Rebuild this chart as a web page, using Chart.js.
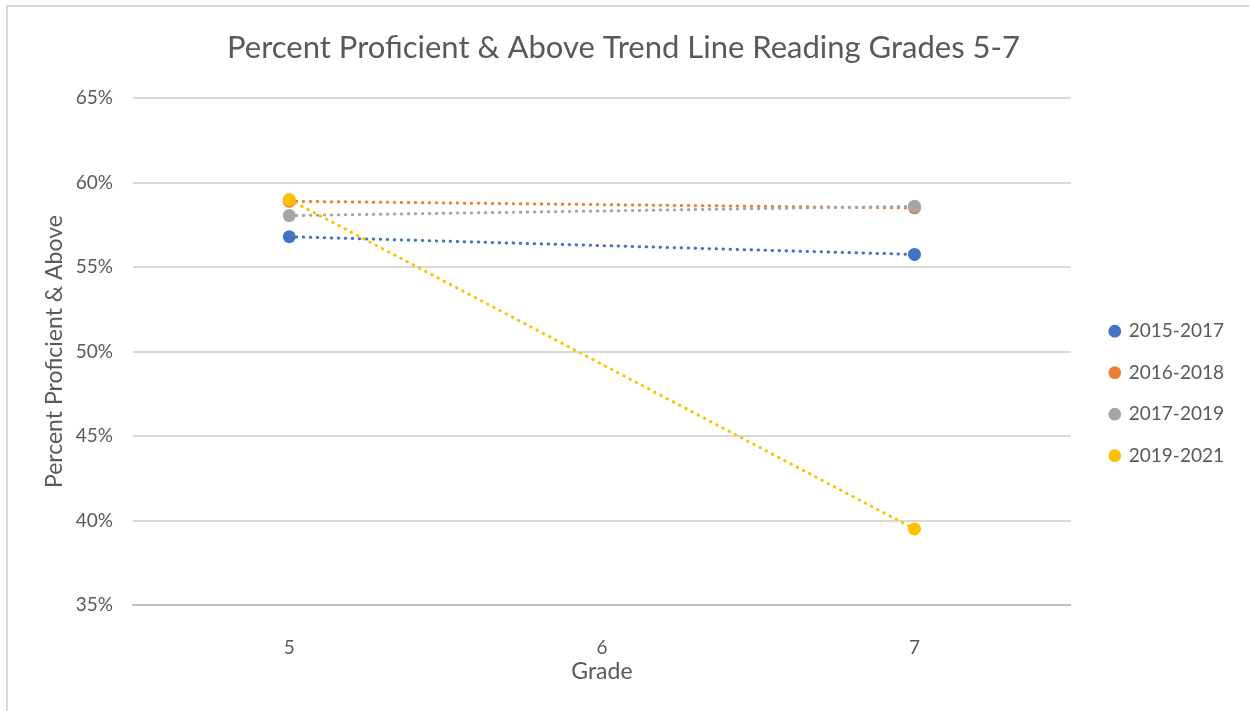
<!DOCTYPE html>
<html>
<head>
<meta charset="utf-8">
<title>Percent Proficient & Above Trend Line Reading Grades 5-7</title>
<script src="https://cdn.jsdelivr.net/npm/chart.js@4.4.1/dist/chart.umd.min.js"></script>
<style>
  html, body { margin: 0; padding: 0; background: #fff; overflow: hidden; }
  #wrap { position: relative; width: 1249px; height: 711px; }
  #frame { position: absolute; left: 6px; top: 5px; right: -4px; bottom: -4px;
           border-left: 2px solid #d9d9d9; border-top: 2px solid #d9d9d9; pointer-events: none; }
</style>
</head>
<body>
<div id="wrap">
  <canvas id="trend" width="1249" height="711"></canvas>
  <div id="frame"></div>
</div>
<script>
// grades on the x axis and the two grades each cohort was tested in
var grades = [5, 6, 7];
var testedGrades = [5, 7];
var yTicks = [35, 40, 45, 50, 55, 60, 65];

// percent proficient & above, per cohort
var cohorts = ['2015-2017', '2016-2018', '2017-2019', '2019-2021'];
var pct2015 = [56.8, 55.75];
var pct2016 = [58.9, 58.5];
var pct2017 = [58.05, 58.6];
var pct2019 = [59.0, 39.5];

var colors = ['#4472C4', '#ED7D31', '#A5A5A5', '#FFC000'];
var textGrey = '#595959';
var font = 'Lato';

function points(vals) {
    return vals.map(function(v, i) { return { x: testedGrades[i], y: v }; });
}

var series = [pct2015, pct2016, pct2017, pct2019];
var datasets = series.map(function(vals, i) {
    return {
        label: cohorts[i],
        data: points(vals),
        showLine: true,
        borderColor: colors[i],
        backgroundColor: colors[i],
        borderWidth: 3,
        borderDash: [0.5, 6.5],
        borderCapStyle: 'round',
        pointRadius: 6.5,
        pointBorderWidth: 0,
        pointHoverRadius: 6.5,
        // later cohorts sit on top, like the spreadsheet
        order: series.length - i
    };
});

// put the legend to the right of the plot, a bit lower than centre
var legendSpot = {
    id: 'legendSpot',
    afterLayout: function(chart) {
        var lg = chart.legend;
        var dx = chart.chartArea.right + 17 - lg.left;
        lg.left += dx;
        lg.right += dx;
        lg.top = chart.chartArea.top + 201;
    }
};

var ctx = document.getElementById('trend').getContext('2d');
var chart = new Chart(ctx, {
    type: 'scatter',
    data: { datasets: datasets },
    plugins: [legendSpot],
    options: {
        responsive: false,
        animation: false,
        layout: { padding: { left: 30, right: 32, top: 0, bottom: 0 } },
        plugins: {
            title: {
                display: true,
                text: 'Percent Proficient & Above Trend Line Reading Grades 5-7',
                color: textGrey,
                font: { family: font, size: 31, weight: 'normal' },
                padding: { top: 29, bottom: 32 }
            },
            legend: {
                position: 'right',
                align: 'start',
                reverse: true,
                labels: {
                    usePointStyle: true,
                    boxWidth: 9,
                    boxHeight: 9,
                    padding: 22.5,
                    color: textGrey,
                    font: { family: font, size: 19 }
                }
            },
            tooltip: { enabled: false }
        },
        scales: {
            x: {
                type: 'linear',
                min: 4.5,
                max: 7.5,
                afterBuildTicks: function(scale) {
                    scale.ticks = grades.map(function(g) { return { value: g }; });
                },
                afterFit: function(scale) { scale.height = 106; },
                grid: { display: false, drawTicks: false },
                border: { display: true, color: '#bfbfbf', width: 2 },
                ticks: { color: textGrey, font: { family: font, size: 19 }, padding: 31 },
                title: {
                    display: true,
                    text: 'Grade',
                    color: textGrey,
                    font: { family: font, size: 23 },
                    padding: { top: 0, bottom: 26 }
                }
            },
            y: {
                min: 35,
                max: 65,
                afterBuildTicks: function(scale) {
                    scale.ticks = yTicks.map(function(t) { return { value: t }; });
                },
                afterFit: function(scale) { scale.width = 103; },
                grid: { color: '#d9d9d9', lineWidth: 2, drawTicks: false },
                border: { display: false },
                ticks: {
                    color: textGrey,
                    font: { family: font, size: 19 },
                    padding: 20,
                    callback: function(v) { return v + '%'; }
                },
                title: {
                    display: true,
                    text: 'Percent Proficient & Above',
                    color: textGrey,
                    font: { family: font, size: 23 },
                    padding: { top: 11, bottom: 0 }
                }
            }
        }
    }
});
</script>
</body>
</html>
